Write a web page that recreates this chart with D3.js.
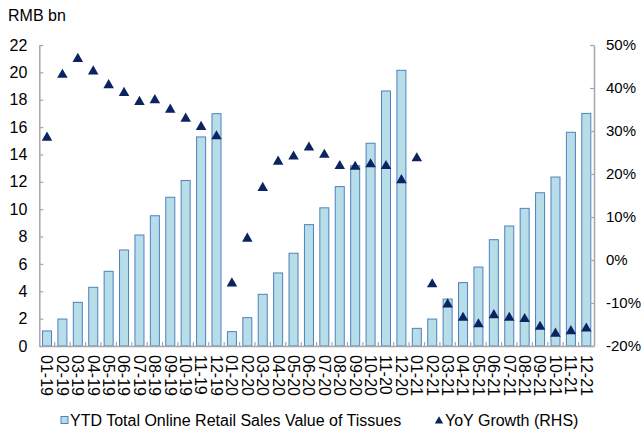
<!DOCTYPE html>
<html>
<head>
<meta charset="utf-8">
<script src="https://cdn.jsdelivr.net/npm/d3@7"></script>
<style>
  html, body { margin: 0; padding: 0; background: #fff; }
  svg { display: block; font-family: "Liberation Sans", Arial, sans-serif; }
</style>
</head>
<body>
<svg id="chart" width="641" height="430"></svg>
<script>
const categories = [
  "01-19","02-19","03-19","04-19","05-19","06-19","07-19","08-19","09-19","10-19","11-19","12-19",
  "01-20","02-20","03-20","04-20","05-20","06-20","07-20","08-20","09-20","10-20","11-20","12-20",
  "01-21","02-21","03-21","04-21","05-21","06-21","07-21","08-21","09-21","10-21","11-21","12-21"
];
const salesYTD = [
  1.1, 1.97, 3.19, 4.29, 5.46, 7.02, 8.11, 9.52, 10.87, 12.1, 15.28, 16.98,
  1.05, 2.07, 3.78, 5.34, 6.78, 8.87, 10.1, 11.65, 13.18, 14.82, 18.64, 20.15,
  1.29, 1.97, 3.43, 4.63, 5.77, 7.77, 8.77, 10.06, 11.2, 12.35, 15.62, 17.0
];
const yoyGrowth = [
  28.7, 43.3, 47.0, 44.1, 40.9, 39.1, 37.0, 37.4, 35.2, 33.1, 31.2, 29.0,
  -5.2, 5.2, 17.0, 23.1, 24.3, 26.4, 24.7, 22.1, 21.9, 22.5, 22.1, 18.8,
  23.9, -5.4, -10.1, -13.2, -14.7, -12.6, -13.2, -13.5, -15.3, -16.9, -16.3, -15.7
];
const leftTicks = [0, 2, 4, 6, 8, 10, 12, 14, 16, 18, 20, 22];
const rightTicks = [-20, -10, 0, 10, 20, 30, 40, 50];
const leftTitle = "RMB bn";
const legendBar = "YTD Total Online Retail Sales Value of Tissues";
const legendTri = "YoY Growth (RHS)";

const svg = d3.select("#chart");
const plotL = 39.3, plotR = 594, plotT = 45, plotB = 346;
const axisColor = "#a6a6a6";
const barFill = "#b7dde8", barStroke = "#4f81bd", triColor = "#0b2361";

const x = d3.scaleBand().domain(categories).range([plotL, plotR]).paddingInner(0.35).paddingOuter(0.175);
const yL = d3.scaleLinear().domain([0, 22]).range([plotB, plotT]);
const yR = d3.scaleLinear().domain([-20, 50]).range([plotB, plotT]);

// bars
svg.append("g").selectAll("rect").data(salesYTD).join("rect")
  .attr("x", (d, i) => x(categories[i]) + 0.5)
  .attr("y", d => yL(d))
  .attr("width", x.bandwidth() - 1)
  .attr("height", d => yL(0) - yL(d))
  .attr("fill", barFill)
  .attr("stroke", barStroke)
  .attr("stroke-width", 1);

// left axis
const gL = svg.append("g").attr("transform", `translate(${plotL},0)`)
  .call(d3.axisLeft(yL).tickValues(leftTicks).tickSizeInner(-4).tickSizeOuter(0).tickPadding(12).tickFormat(d3.format("d")));
// right axis
const gR = svg.append("g").attr("transform", `translate(${plotR},0)`)
  .call(d3.axisRight(yR).tickValues(rightTicks).tickSizeInner(-4).tickSizeOuter(0).tickPadding(12).tickFormat(d => d + "%"));
// bottom axis (labels)
const gB = svg.append("g").attr("transform", `translate(0,${plotB})`)
  .call(d3.axisBottom(x).tickSize(0).tickSizeOuter(0).tickPadding(0));

[gL, gR, gB].forEach(g => {
  g.select(".domain").attr("stroke", axisColor).attr("stroke-width", 1.5);
  g.selectAll(".tick line").attr("stroke", axisColor).attr("stroke-width", 1.2);
  g.selectAll("text").attr("fill", "#000").style("font-size", "16px").style("font-family", '"Liberation Sans", Arial, sans-serif');
});
gR.selectAll("text").style("font-size", "15px");

gB.selectAll(".tick text")
  .attr("transform", "translate(0,9) rotate(90)")
  .attr("text-anchor", "start")
  .attr("x", 0).attr("y", 0).attr("dy", "0.35em");

// x-axis ticks at band boundaries
const bounds = d3.range(categories.length + 1).map(i => plotL + i * x.step());
svg.append("g").selectAll("line").data(bounds.slice(1, -1)).join("line")
  .attr("x1", d => d).attr("x2", d => d)
  .attr("y1", plotB).attr("y2", plotB - 4)
  .attr("stroke", axisColor).attr("stroke-width", 1.2);

// triangles
const tri = d3.symbol().type(d3.symbolTriangle).size(48);
svg.append("g").selectAll("path").data(yoyGrowth).join("path")
  .attr("d", tri)
  .attr("transform", (d, i) => `translate(${x(categories[i]) + x.bandwidth() / 2},${yR(d) + 1})`)
  .attr("fill", triColor);

// title
svg.append("text").attr("x", 8).attr("y", 21).text(leftTitle)
  .style("font-size", "16px").attr("fill", "#000");

// legend
svg.append("rect").attr("x", 61).attr("y", 416.5).attr("width", 7).attr("height", 7)
  .attr("fill", barFill).attr("stroke", barStroke).attr("stroke-width", 1);
svg.append("text").attr("x", 70).attr("y", 425.5).text(legendBar)
  .style("font-size", "16px").attr("fill", "#000");
svg.append("path").attr("d", d3.symbol().type(d3.symbolTriangle).size(30))
  .attr("transform", "translate(439,421)").attr("fill", triColor);
svg.append("text").attr("x", 445).attr("y", 425.5).text(legendTri)
  .style("font-size", "16px").attr("fill", "#000");
</script>
</body>
</html>
